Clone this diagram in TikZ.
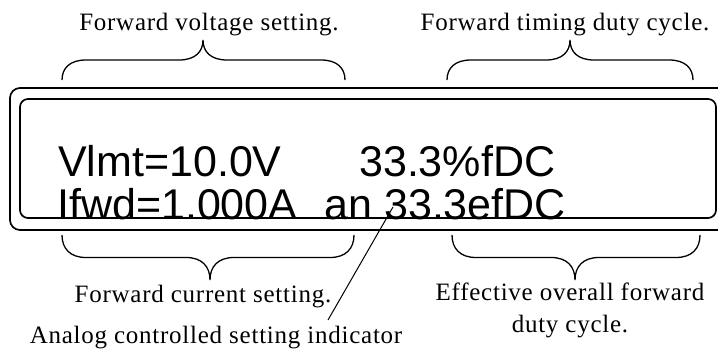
\documentclass[tikz,border=0pt]{standalone}
\usepackage{fontspec}
\setmainfont{Liberation Serif}[LetterSpace=3]
\newfontfamily\lcdfont{Liberation Sans}
\usetikzlibrary{positioning}
\tikzset{lbl/.style={font=\fontsize{25}{32}\selectfont,inner sep=0pt,align=center},
  lcd/.style={font=\lcdfont\fontsize{43}{43}\selectfont,inner sep=0pt,anchor=base west},
  frame/.style={draw,line width=1.7pt},
  brc/.style={line width=1.3pt}}
% curly brace: x1, x2, tip x, base y, signed height
\newcommand\lcdbrace[5]{%
  \draw[brc] (#1,#4) .. controls (#1,{#4+0.3*(#5)}) and ({#1+8},{#4+0.5*(#5)}) .. ({#1+24},{#4+0.5*(#5)})
    -- ({#3-24},{#4+0.5*(#5)}) .. controls ({#3-8},{#4+0.5*(#5)}) and (#3,{#4+0.7*(#5)}) .. (#3,{#4+#5})
    .. controls (#3,{#4+0.7*(#5)}) and ({#3+8},{#4+0.5*(#5)}) .. ({#3+24},{#4+0.5*(#5)})
    -- ({#2-24},{#4+0.5*(#5)}) .. controls ({#2-8},{#4+0.5*(#5)}) and (#2,{#4+0.3*(#5)}) .. (#2,#4);}

\begin{document}
\begin{tikzpicture}[x=1pt,y=-1pt]
\useasboundingbox (0,0) rectangle (718,352);
\clip (0,0) rectangle (718,352);
% display frame
\draw[frame,rounded corners=10pt] (10,88) rectangle (740,230);
\draw[frame,rounded corners=8pt] (20,99) rectangle (716,218);
% display text
\node[lcd] (vlmt) at (58,177) {Vlmt=10.0V};
\node[lcd] (fdc) at (359,177) {33.3\%fDC};
\node[lcd] (ifwd) at (57,220) {Ifwd=1.000A};
\node[lcd] (an) at (324,220) {an};
\node[lcd] (efdc) at (384,220) {33.3efDC};
% braces
\lcdbrace{62}{345}{203}{80}{-40}
\lcdbrace{447}{693}{570}{80}{-40}
\lcdbrace{62}{354}{210}{235}{45}
\lcdbrace{452}{700}{575}{235}{45}
\coordinate (vtip) at (203,40);
\coordinate (ttip) at (570,40);
\coordinate (ctip) at (210,280);
\coordinate (etip) at (575,280);
% labels
\node[lbl,above=4pt of vtip,xshift=6pt] (vlbl) {Forward voltage setting.};
\node[lbl,above=4pt of ttip,xshift=-5pt] (tlbl) {Forward timing duty cycle.};
\node[lbl,below=5pt of ctip,xshift=-7pt] (clbl) {Forward current setting.};
\node[lbl,below=3pt of etip,xshift=-5pt] (elbl) {Effective overall forward\\duty cycle.};
\node[lbl,anchor=base] (albl) at (216,344) {Analog controlled setting indicator};
% indicator line
\coordinate (antop) at (393,207);
\coordinate (anbot) at (328,320);
\draw[line width=1pt] (antop) -- (anbot);
\end{tikzpicture}
\end{document}
